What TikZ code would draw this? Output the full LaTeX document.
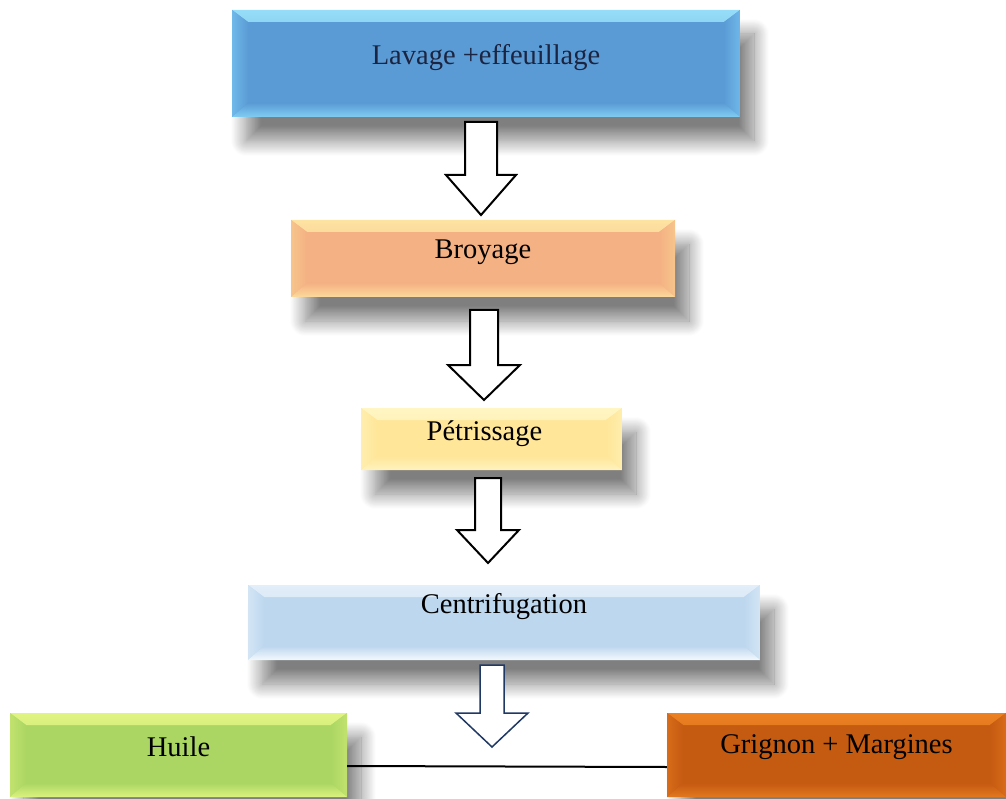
\documentclass[tikz,border=0pt]{standalone}
\usepackage{fontspec}
\setmainfont{Liberation Serif}
\usetikzlibrary{shadows.blur,calc}
\definecolor{lavM}{HTML}{5B9BD5}\definecolor{lavT}{HTML}{95DDF8}\definecolor{lavS}{HTML}{6FB8EA}\definecolor{lavB}{HTML}{80CDF2}
\definecolor{broM}{HTML}{F4B183}\definecolor{broT}{HTML}{FDE3A2}\definecolor{broS}{HTML}{F7C48C}\definecolor{broB}{HTML}{FBDA9C}
\definecolor{petM}{HTML}{FFE699}\definecolor{petT}{HTML}{FFF6C4}\definecolor{petS}{HTML}{FFEEAE}\definecolor{petB}{HTML}{FFF3BC}
\definecolor{cenM}{HTML}{BDD7EE}\definecolor{cenT}{HTML}{E2EEF9}\definecolor{cenS}{HTML}{D3E5F5}\definecolor{cenB}{HTML}{F4F9FD}
\definecolor{huiM}{HTML}{ABD663}\definecolor{huiT}{HTML}{E0F482}\definecolor{huiS}{HTML}{C2E26E}\definecolor{huiB}{HTML}{DCF27E}
\definecolor{griM}{HTML}{C55A11}\definecolor{griT}{HTML}{EB8122}\definecolor{griS}{HTML}{D86C19}\definecolor{griB}{HTML}{E2781E}
\definecolor{navy}{HTML}{1B2440}\definecolor{arrnavy}{HTML}{203864}
\tikzset{
  box/.style={rectangle, inner sep=0pt, font=\fontsize{28.5}{32}\selectfont,
    blur shadow={shadow xshift=14pt, shadow yshift=-24pt, shadow blur radius=15pt, shadow blur steps=20, shadow opacity=50}},
  bevel/.style n args={4}{path picture={
    \shade[top color=#1, bottom color=#4] (path picture bounding box.north west) -- (path picture bounding box.north east)
      -- ([xshift=-16pt,yshift=-12pt]path picture bounding box.north east)
      -- ([xshift=16pt,yshift=-12pt]path picture bounding box.north west) -- cycle;
    \shade[left color=#2, right color=#4] (path picture bounding box.north west) -- ([xshift=16pt,yshift=-12pt]path picture bounding box.north west)
      -- ([xshift=16pt,yshift=14pt]path picture bounding box.south west) -- (path picture bounding box.south west) -- cycle;
    \shade[left color=#4, right color=#2] (path picture bounding box.north east) -- ([xshift=-16pt,yshift=-12pt]path picture bounding box.north east)
      -- ([xshift=-16pt,yshift=14pt]path picture bounding box.south east) -- (path picture bounding box.south east) -- cycle;
    \shade[top color=#4, bottom color=#3] (path picture bounding box.south west) -- (path picture bounding box.south east)
      -- ([xshift=-16pt,yshift=14pt]path picture bounding box.south east)
      -- ([xshift=16pt,yshift=14pt]path picture bounding box.south west) -- cycle;
  }, fill=#4},
  arrowblk/.style={draw=black, fill=white, line width=2pt, line join=miter},
}
\newcommand\blockarr[6][]{%
  \draw[arrowblk,#1] let \p1=(#2), \p2=(#3) in
    (\x2-#4pt,\y1) -- (\x2+#4pt,\y1) -- (\x2+#4pt,\y2+#6pt) -- (\x2+#5pt,\y2+#6pt)
    -- (\x2,\y2) -- (\x2-#5pt,\y2+#6pt) -- (\x2-#4pt,\y2+#6pt) -- cycle;}
\begin{document}
\begin{tikzpicture}[x=1pt,y=-1pt]
\useasboundingbox (0,0) rectangle (1006,799);
\node[box, bevel={lavT}{lavS}{lavB}{lavM}, minimum width=508pt, minimum height=107pt, text=navy] (b1) at (486,63.5)
  {\raisebox{6pt}[\height][\depth]{Lavage +effeuillage}};
\node[box, bevel={broT}{broS}{broB}{broM}, minimum width=384pt, minimum height=77pt] (b2) at (483,258.5)
  {\raisebox{6pt}[\height][\depth]{Broyage}};
\node[box, bevel={petT}{petS}{petB}{petM}, minimum width=261pt, minimum height=62pt] (b3) at (491.5,439)
  {\raisebox{5pt}[\height][\depth]{\hspace*{-14pt}Pétrissage}};
\node[box, bevel={cenT}{cenS}{cenB}{cenM}, minimum width=512pt, minimum height=75pt] (b4) at (504,622.5)
  {\raisebox{16pt}[\height][\depth]{Centrifugation}};
\node[box, bevel={huiT}{huiS}{huiB}{huiM}, minimum width=337pt, minimum height=84pt] (b5) at (178.5,755)
  {\raisebox{8pt}[\height][\depth]{Huile}};
\node[box, bevel={griT}{griS}{griB}{griM}, minimum width=339pt, minimum height=84pt] (b6) at (836.5,755)
  {\raisebox{8pt}[\height][\depth]{Grignon + Margines}};
\coordinate (a1s) at (481,122); \coordinate (a1t) at (481,215);
\coordinate (a2s) at (484,310); \coordinate (a2t) at (484,400);
\coordinate (a3s) at (488,478); \coordinate (a3t) at (488,563);
\coordinate (a4s) at (492,665); \coordinate (a4t) at (492,747);
\blockarr{a1s}{a1t}{16}{35}{40}
\blockarr{a2s}{a2t}{14}{36}{35}
\blockarr{a3s}{a3t}{13}{31}{33}
\blockarr[draw=arrnavy,line width=1.5pt]{a4s}{a4t}{12}{36}{34}
\draw[line width=2pt] ([yshift=-11pt]b5.east) -- ([yshift=-12pt]b6.west);
\end{tikzpicture}
\end{document}
